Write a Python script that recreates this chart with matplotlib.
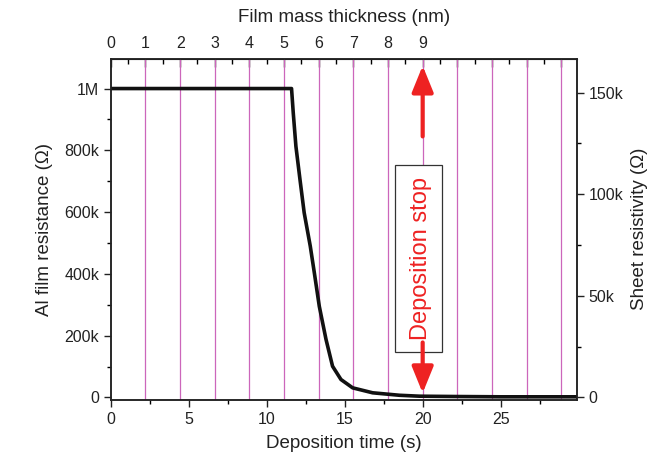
import numpy as np
import matplotlib.pyplot as plt
from matplotlib.patches import Rectangle, FancyArrowPatch
from matplotlib.ticker import MultipleLocator, FixedLocator, FuncFormatter

plt.rcParams['font.family'] = ['Liberation Sans', 'DejaVu Sans']

# resistance vs deposition time
time_s = [0.0, 5.0, 10.0, 11.59, 11.70, 11.87, 12.13, 12.40, 12.79, 13.05,
          13.37, 13.80, 14.22, 14.76, 15.51, 16.79, 18.51, 19.79, 22.0, 25.0,
          29.9]
resistance = [1.0e6, 1.0e6, 1.0e6, 1.0e6, 0.921e6, 0.813e6, 0.706e6, 0.598e6,
              0.490e6, 0.404e6, 0.295e6, 0.188e6, 0.101e6, 0.058e6, 0.031e6,
              0.015e6, 0.007e6, 0.004e6, 0.003e6, 0.002e6, 0.002e6]

nm_per_s = 9 / 20.0          # 9 nm reached at 20 s
sheet_factor = 0.152         # right-axis scale relative to left
thickness_ticks = list(range(0, 14))
thickness_labels = [str(i) if i <= 9 else '' for i in thickness_ticks]
stop_time = 20.0

fig = plt.figure(figsize=(6.52, 4.65), dpi=100)
ax = fig.add_axes([0.170, 0.140, 0.715, 0.734])

xmax = 29.9
ylo, yhi = -8000, 1.097e6
ax.set_xlim(0, xmax)
ax.set_ylim(ylo, yhi)

# vertical lines at every nm of film thickness
for nm in thickness_ticks[1:]:
    ax.axvline(nm / nm_per_s, color='#cc66bb', lw=0.9, zorder=1)

ax.plot(time_s, resistance, color='#111111', lw=2.6, zorder=5,
        solid_joinstyle='round')

# deposition stop box + arrows
ax.add_patch(Rectangle((18.25, 0.146e6), 3.02, 0.605e6, facecolor='white',
                       edgecolor='#333333', lw=0.9, zorder=3))
ax.text(19.89, 0.45e6, 'Deposition stop', rotation=90, color='#ee2222',
        fontsize=17, ha='center', va='center', zorder=4)
for y0, y1 in [(0.845e6, 1.074e6), (0.178e6, 0.014e6)]:
    ax.add_patch(FancyArrowPatch((stop_time, y0), (stop_time, y1),
                                 arrowstyle='-|>,head_length=16,head_width=6.5',
                                 mutation_scale=1, color='#ee2222', lw=3,
                                 shrinkA=0, shrinkB=0, zorder=6))


def kfmt(v, pos):
    if abs(v) < 1:
        return '0'
    if v >= 1e6:
        return f'{v/1e6:g}M'
    return f'{v/1e3:g}k'


ax.xaxis.set_major_locator(MultipleLocator(5))
ax.xaxis.set_minor_locator(MultipleLocator(2.5))
ax.yaxis.set_major_locator(MultipleLocator(200000))
ax.yaxis.set_minor_locator(MultipleLocator(100000))
ax.yaxis.set_major_formatter(FuncFormatter(kfmt))
ax.tick_params(which='major', direction='out', length=5, width=1, labelsize=11.5,
               colors='#222222')
ax.tick_params(which='minor', direction='out', length=3, width=1)
ax.set_xlabel('Deposition time (s)', fontsize=13.5, color='#222222', labelpad=6)
ax.set_ylabel('Al film resistance (\u03a9)', fontsize=13.5, color='#222222',
              labelpad=8)

# right axis: sheet resistivity
axr = ax.twinx()
axr.set_ylim(ylo * sheet_factor, yhi * sheet_factor)
axr.yaxis.set_major_locator(MultipleLocator(50000))
axr.yaxis.set_minor_locator(MultipleLocator(25000))
axr.yaxis.set_major_formatter(FuncFormatter(kfmt))
axr.tick_params(which='major', direction='out', length=5, width=1, labelsize=11.5,
                colors='#222222')
axr.tick_params(which='minor', direction='out', length=3, width=1)
axr.set_ylabel('Sheet resistivity (\u03a9)', fontsize=13.5, color='#222222',
               rotation=90, va='center', ha='center', rotation_mode='anchor')
axr.yaxis.set_label_coords(1.133, 0.5)

# top axis: film mass thickness
axt = ax.secondary_xaxis('top', functions=(lambda t: t * nm_per_s,
                                           lambda n: n / nm_per_s))
axt.xaxis.set_major_locator(FixedLocator(thickness_ticks))
axt.xaxis.set_minor_locator(MultipleLocator(0.5))
axt.set_xticklabels(thickness_labels)
axt.tick_params(which='major', direction='in', length=6, width=1, labelsize=11.5,
                colors='#222222', pad=5.5)
axt.tick_params(which='minor', direction='in', length=3.5, width=1)
axt.set_xlabel('Film mass thickness (nm)', fontsize=13.5, color='#222222',
               labelpad=10)

for a in (ax, axr):
    for s in a.spines.values():
        s.set_linewidth(1.1)
        s.set_color('#222222')

fig.savefig('out.png', dpi=100)
